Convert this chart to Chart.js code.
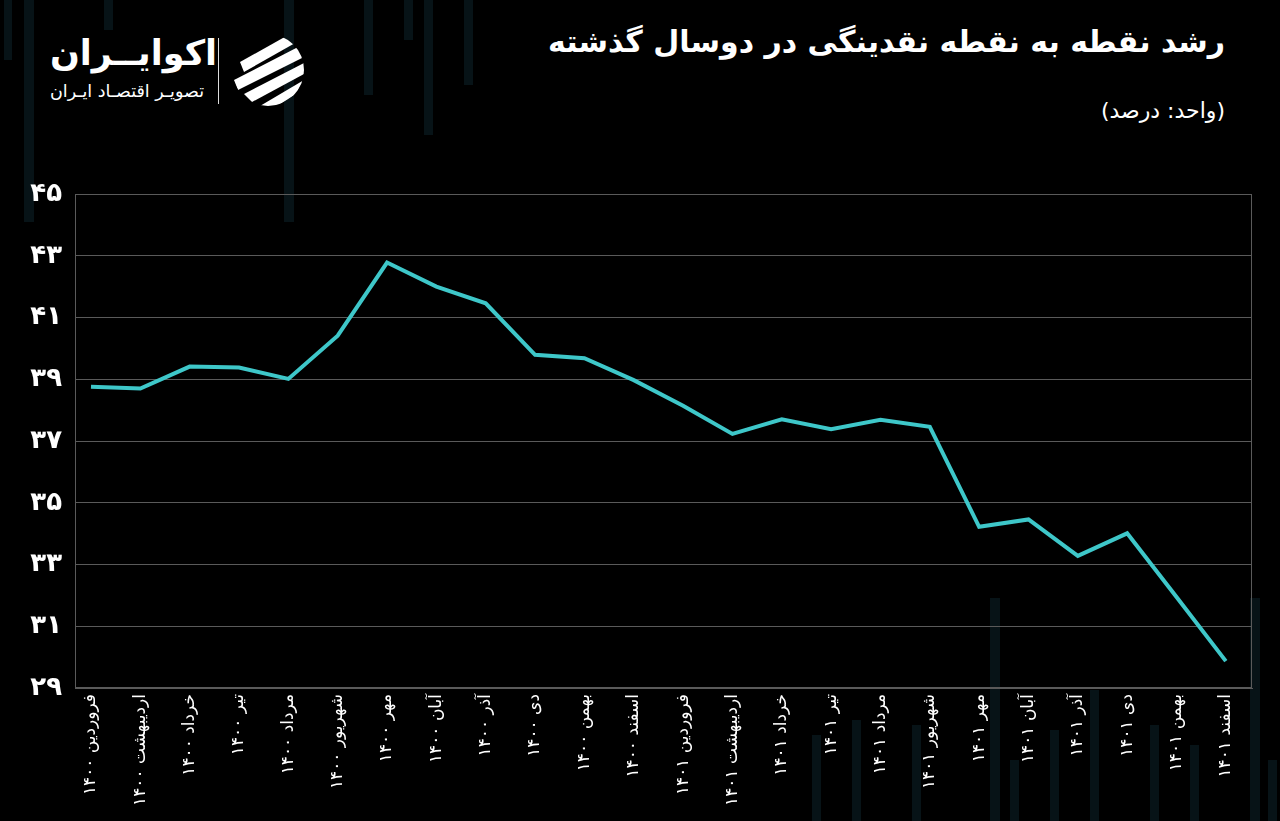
<!DOCTYPE html>
<html lang="fa">
<head>
<meta charset="utf-8">
<script src="https://cdn.jsdelivr.net/npm/chart.js@4/dist/chart.umd.min.js"></script>
<style>
  html, body { margin:0; padding:0; background:#000; width:1280px; height:821px; overflow:hidden; }
  #wrap { position:absolute; left:0; top:0; width:1280px; height:821px; }
  .bar { position:absolute; background:rgba(22,58,70,0.32); }
  #title { position:absolute; right:55px; top:24px; color:#fff; font-family:"DejaVu Sans", sans-serif; font-weight:bold; font-size:30px; direction:rtl; white-space:nowrap; }
  #unit { position:absolute; right:55px; top:98px; color:#fff; font-family:"DejaVu Sans", sans-serif; font-size:22px; direction:rtl; white-space:nowrap; }
  #brand { position:absolute; left:50px; top:33px; color:#fff; font-family:"DejaVu Sans", sans-serif; font-weight:bold; font-size:35px; direction:rtl; white-space:nowrap; }
  #brandsub { position:absolute; left:50px; top:81px; color:#fff; font-family:"DejaVu Sans", sans-serif; font-size:17.5px; direction:rtl; white-space:nowrap; }
  #sep { position:absolute; left:218px; top:38px; width:1px; height:66px; background:#ddd; }
  #logo { position:absolute; left:230px; top:32px; }
  canvas { position:absolute; left:0; top:0; }
</style>
</head>
<body>
<div id="wrap">
  <div class="bar" style="left:24px;top:0;width:10px;height:222px"></div>
  <div class="bar" style="left:104px;top:0;width:9px;height:30px"></div>
  <div class="bar" style="left:284px;top:0;width:10px;height:222px"></div>
  <div class="bar" style="left:364px;top:0;width:9px;height:95px"></div>
  <div class="bar" style="left:404px;top:0;width:9px;height:40px"></div>
  <div class="bar" style="left:424px;top:0;width:9px;height:135px"></div>
  <div class="bar" style="left:464px;top:0;width:9px;height:85px"></div>
  <div class="bar" style="left:4px;top:0;width:8px;height:60px"></div>
  <div class="bar" style="left:812px;top:735px;width:9px;height:86px"></div>
  <div class="bar" style="left:852px;top:720px;width:9px;height:101px"></div>
  <div class="bar" style="left:912px;top:725px;width:9px;height:96px"></div>
  <div class="bar" style="left:990px;top:598px;width:10px;height:223px"></div>
  <div class="bar" style="left:1010px;top:760px;width:9px;height:61px"></div>
  <div class="bar" style="left:1050px;top:730px;width:9px;height:91px"></div>
  <div class="bar" style="left:1090px;top:690px;width:9px;height:131px"></div>
  <div class="bar" style="left:1150px;top:725px;width:9px;height:96px"></div>
  <div class="bar" style="left:1190px;top:745px;width:9px;height:76px"></div>
  <div class="bar" style="left:1250px;top:598px;width:10px;height:223px"></div>
  <div class="bar" style="left:1268px;top:760px;width:9px;height:61px"></div>

  <div id="title">رشد نقطه به نقطه نقدینگی در دوسال گذشته</div>
  <div id="unit">(واحد: درصد)</div>
  <div id="brand">اکوایــران</div>
  <div id="brandsub">تصویـر اقتصـاد ایـران</div>
  <div id="sep"></div>
  <svg id="logo" width="78" height="76" viewBox="0 0 78 76">
    <defs><clipPath id="c"><circle cx="38" cy="38" r="36"/></clipPath></defs>
    <g clip-path="url(#c)" fill="#fff">
      <polygon points="10,30 60,2 74,6 14,40"/>
      <polygon points="4,48 70,14 76,24 8,58"/>
      <polygon points="14,62 76,30 74,42 22,70"/>
      <polygon points="30,74 74,48 66,62 44,76"/>
    </g>
  </svg>
  <canvas id="chart" width="1280" height="821"></canvas>
</div>
<script>
const months = [
  'فروردین ۱۴۰۰','اردیبهشت ۱۴۰۰','خرداد ۱۴۰۰','تیر ۱۴۰۰','مرداد ۱۴۰۰','شهریور ۱۴۰۰',
  'مهر ۱۴۰۰','آبان ۱۴۰۰','آذر ۱۴۰۰','دی ۱۴۰۰','بهمن ۱۴۰۰','اسفند ۱۴۰۰',
  'فروردین ۱۴۰۱','اردیبهشت ۱۴۰۱','خرداد ۱۴۰۱','تیر ۱۴۰۱','مرداد ۱۴۰۱','شهریور ۱۴۰۱',
  'مهر ۱۴۰۱','آبان ۱۴۰۱','آذر ۱۴۰۱','دی ۱۴۰۱','بهمن ۱۴۰۱','اسفند ۱۴۰۱'
];
const growth = [
  38.76, 38.70, 39.41, 39.38, 39.01, 40.41,
  42.78, 42.00, 41.46, 39.79, 39.68, 38.97,
  38.14, 37.23, 37.70, 37.38, 37.69, 37.46,
  34.22, 34.46, 33.28, 34.01, 31.95, 29.87
];
const yTickValues = [29, 31, 33, 35, 37, 39, 41, 43, 45];

const faDigits = '۰۱۲۳۴۵۶۷۸۹';
const toFa = n => String(n).replace(/\d/g, d => faDigits[d]);

const points = growth.map((v, i) => ({ x: i, y: v }));

new Chart(document.getElementById('chart'), {
  type: 'line',
  data: {
    datasets: [{
      data: points,
      borderColor: '#3ec7c9',
      borderWidth: 4,
      pointRadius: 0,
      tension: 0,
      fill: false
    }]
  },
  options: {
    responsive: false,
    animation: false,
    devicePixelRatio: 1,
    layout: { padding: { top: 194, right: 28, left: 0, bottom: 0 } },
    plugins: { legend: { display: false }, tooltip: { enabled: false } },
    scales: {
      x: {
        type: 'linear',
        min: -0.324,
        max: 23.53,
        afterBuildTicks: s => { s.ticks = months.map((_, i) => ({ value: i })); },
        afterFit: s => { s.height = 133; },
        grid: { display: false, drawTicks: false },
        border: { display: true, color: '#5a5a5a', width: 1 },
        ticks: {
          autoSkip: false,
          minRotation: 90,
          maxRotation: 90,
          padding: 6,
          color: '#ffffff',
          font: { family: 'DejaVu Sans', size: 17 },
          callback: v => months[v]
        }
      },
      y: {
        min: 29,
        max: 45,
        afterBuildTicks: s => { s.ticks = yTickValues.map(v => ({ value: v })); },
        afterFit: s => { s.width = 75; },
        grid: { color: '#5a5a5a', lineWidth: 1, drawTicks: false },
        border: { display: true, color: '#5a5a5a', width: 1 },
        ticks: {
          padding: 13,
          color: '#ffffff',
          font: { family: 'DejaVu Sans', size: 26, weight: 'bold' },
          callback: v => toFa(v)
        }
      }
    }
  },
  plugins: [{
    id: 'frame',
    afterDraw(chart) {
      const { ctx, chartArea: a } = chart;
      ctx.save();
      ctx.strokeStyle = '#5a5a5a';
      ctx.lineWidth = 1;
      ctx.strokeRect(a.left + 0.5, a.top + 0.5, a.right - a.left - 1, a.bottom - a.top - 1);
      ctx.restore();
    }
  }]
});
</script>
</body>
</html>
